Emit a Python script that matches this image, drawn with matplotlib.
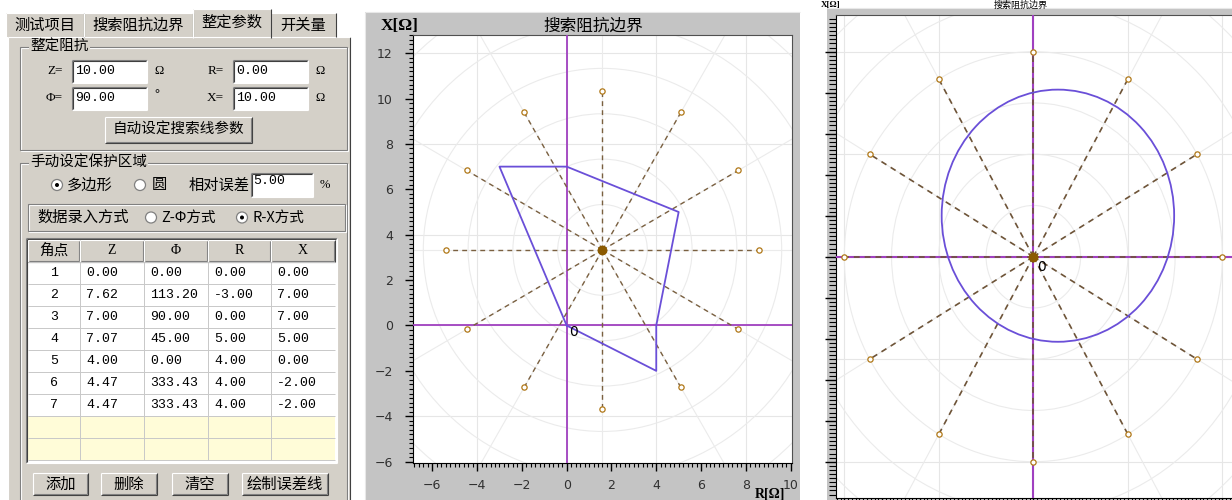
import numpy as np
import matplotlib.pyplot as plt
from matplotlib.patches import Rectangle, Circle
from matplotlib.ticker import MultipleLocator

W, H = 1232, 500
PANEL = '#D4D0C8'
FRAME = '#C4C4C4'
CJK = ['Noto Sans CJK SC', 'DejaVu Sans']
MONO = ['Liberation Mono', 'DejaVu Sans Mono']
SERIF = ['Liberation Serif', 'DejaVu Serif']

# ---- values ----
tab_names = ['测试项目', '搜索阻抗边界', '整定参数', '开关量']
set_Z, set_phi, set_R, set_X = 10.00, 90.00, 0.00, 10.00
rel_error = 5.00

col_names = ['角点', 'Z', 'Φ', 'R', 'X']
corner_no = [1, 2, 3, 4, 5, 6, 7]
corner_Z = [0.00, 7.62, 7.00, 7.07, 4.00, 4.47, 4.47]
corner_phi = [0.00, 113.20, 90.00, 45.00, 0.00, 333.43, 333.43]
corner_R = [0.00, -3.00, 0.00, 5.00, 4.00, 4.00, 4.00]
corner_X = [0.00, 7.00, 7.00, 5.00, 0.00, -2.00, -2.00]
button_names = ['添加', '删除', '清空', '绘制误差线']

# search lines, one every 30 degrees
ray_angles = [0, 30, 60, 90, 120, 150, 180, 210, 240, 270, 300, 330]
poly_search_center = (1.6, 3.33)
poly_search_len = 7.0
circ_search_center = (0.0, 0.0)
circ_search_len = 10.0
mho_center = (1.3, 2.0)
mho_radius = 6.15

PURPLE = '#A040C0'
BOUNDARY = '#6A4FD8'

fig = plt.figure(figsize=(W / 100, H / 100), dpi=100)
fig.patch.set_facecolor('white')

bg = fig.add_axes([0, 0, 1, 1], zorder=0)
bg.set_xlim(0, W)
bg.set_ylim(H, 0)
bg.axis('off')


def px_axes(x0, y0, x1, y1):
    return fig.add_axes([x0 / W, 1 - y1 / H, (x1 - x0) / W, (y1 - y0) / H], zorder=2)


def hline(x0, x1, y, c, lw=0.8):
    bg.plot([x0, x1], [y, y], color=c, lw=lw, solid_capstyle='butt')


def vline(x, y0, y1, c, lw=0.8):
    bg.plot([x, x], [y0, y1], color=c, lw=lw, solid_capstyle='butt')


def rect(x0, y0, x1, y1, fc, ec='none'):
    bg.add_patch(Rectangle((x0, y0), x1 - x0, y1 - y0, fc=fc, ec=ec, lw=0.8))


def sunken(x0, y0, x1, y1, fill='white'):
    rect(x0, y0, x1, y1, fill)
    hline(x0, x1, y0, '#808080'); vline(x0, y0, y1, '#808080')
    hline(x0 + 1, x1 - 1, y0 + 1, '#404040'); vline(x0 + 1, y0 + 1, y1 - 1, '#404040')
    hline(x0, x1, y1, 'white'); vline(x1, y0, y1, 'white')


def raised(x0, y0, x1, y1, fill=PANEL):
    rect(x0, y0, x1, y1, fill)
    hline(x0, x1, y0, 'white'); vline(x0, y0, y1, 'white')
    hline(x0, x1, y1, '#404040'); vline(x1, y0, y1, '#404040')
    hline(x0 + 1, x1 - 1, y1 - 1, '#808080'); vline(x1 - 1, y0 + 1, y1 - 1, '#808080')


def group(x0, y0, x1, y1, title=None, tx=None):
    bg.add_patch(Rectangle((x0 + 1, y0 + 1), x1 - x0, y1 - y0, fc='none', ec='white', lw=0.8))
    bg.add_patch(Rectangle((x0, y0), x1 - x0, y1 - y0, fc='none', ec='#808080', lw=0.8))
    if title:
        bg.text(tx, y0, title, ha='left', va='center', fontsize=10.5, family=CJK,
                bbox=dict(fc=PANEL, ec='none', pad=1))


def radio(x, y, on):
    bg.add_patch(Circle((x, y), 5.5, fc='white', ec='#808080', lw=0.9))
    if on:
        bg.add_patch(Circle((x, y), 2, fc='black', ec='none'))


def txt(x, y, s, size=10.5, ha='left', family=CJK, **kw):
    bg.text(x, y, s, ha=ha, va='center', fontsize=size, family=family, **kw)


# ---------------- left dialog panel ----------------
rect(8, 37, 350, 505, PANEL)
vline(8, 37, 505, 'white'); vline(350, 37, 505, '#404040')
hline(8, 350, 37, 'white')

tab_spans = [(6, 84), (84, 193), (193, 271), (271, 336)]
for i, (name, (a, b)) in enumerate(zip(tab_names, tab_spans)):
    if i == 2:
        continue
    rect(a, 13, b, 37, PANEL)
    hline(a, b, 13, 'white'); vline(a, 13, 37, 'white'); vline(b, 13, 37, '#404040')
    txt((a + b) / 2, 25.5, name, size=11, ha='center')
a, b = tab_spans[2]
rect(a, 9, b, 38.5, PANEL)
hline(a, b, 9, 'white'); vline(a, 9, 38, 'white'); vline(b, 9, 38, '#404040')
txt((a + b) / 2, 22, tab_names[2], size=11, ha='center')

# 整定阻抗 group
group(20, 47, 347, 150, '整定阻抗', 30)
fields = [('Z=', set_Z, 'Ω', 72, 71), ('Φ=', set_phi, '°', 72, 98),
          ('R=', set_R, 'Ω', 233, 71), ('X=', set_X, 'Ω', 233, 98)]
for lab, val, unit, bx, by in fields:
    txt(bx - 9, by, lab, size=9.5, ha='right', family=SERIF)
    sunken(bx, by - 11, bx + 75, by + 12)
    txt(bx + 3, by, '%.2f' % val, size=9.5, family=MONO)
    if unit == '°':
        txt(bx + 82, by - 4, unit, size=9, family=SERIF, fontweight='bold')
    else:
        txt(bx + 82, by, unit, size=9, family=SERIF)
raised(105, 117, 252, 143)
txt(178.5, 130, '自动设定搜索线参数', size=10.5, ha='center')

# 手动设定保护区域 group
group(20, 163, 347, 510, '手动设定保护区域', 30)
radio(57, 185, True)
txt(67, 185, '多边形', size=11)
radio(140, 185, False)
txt(152, 185, '圆', size=11)
txt(189, 185, '相对误差', size=11)
sunken(251, 173, 313, 197)
txt(253, 181, '%.2f' % rel_error, size=9.5, family=MONO)
txt(320, 185, '%', size=9, family=SERIF)

group(28, 204, 345, 231)
txt(37, 217.5, '数据录入方式', size=11)
radio(151, 217.5, False)
txt(161, 217.5, 'Z-Φ方式', size=10.5)
radio(242, 217.5, True)
txt(253, 217.5, 'R-X方式', size=10.5)

# corner table
cols = [28, 80, 144, 208, 271, 335]
sunken(26, 238, 337, 463)
head_top, head_bot = 240, 261.7
row_h = 22.03
for i, name in enumerate(col_names):
    raised(cols[i], head_top, cols[i + 1], head_bot)
    fam = CJK if i == 0 else SERIF
    txt((cols[i] + cols[i + 1]) / 2, (head_top + head_bot) / 2, name, size=10 if i else 10.5,
        ha='center', family=fam)
n_rows = 9
for r in range(n_rows):
    y0 = head_bot + r * row_h
    fill = 'white' if r < len(corner_no) else '#FFFCD8'
    rect(cols[0], y0, cols[-1], y0 + row_h, fill)
for r in range(n_rows + 1):
    hline(cols[0], cols[-1], head_bot + r * row_h, '#C8C8C8', lw=0.7)
for c in cols[1:-1]:
    vline(c, head_bot, head_bot + n_rows * row_h, '#C8C8C8', lw=0.7)
for r in range(len(corner_no)):
    yc = head_bot + (r + 0.5) * row_h
    txt((cols[0] + cols[1]) / 2, yc, str(corner_no[r]), size=9.5, ha='center', family=MONO)
    vals = [corner_Z[r], corner_phi[r], corner_R[r], corner_X[r]]
    for j, v in enumerate(vals):
        txt(cols[j + 1] + 6, yc, '%.2f' % v, size=9.5, family=MONO)

btn_spans = [(33, 88), (101, 157), (172, 228), (242, 328)]
for name, (a, b) in zip(button_names, btn_spans):
    raised(a, 473, b, 495)
    txt((a + b) / 2, 484, name, size=11, ha='center')


# ---------------- chart helpers ----------------
def polar_grid(ax, center, step, n):
    cx, cy = center
    for k in range(1, n + 1):
        ax.add_patch(Circle((cx, cy), k * step, fc='none', ec='#EBEBEB', lw=0.8, zorder=1))
    for a in range(0, 360, 30):
        t = np.radians(a)
        ax.plot([cx, cx + 60 * np.cos(t)], [cy, cy + 60 * np.sin(t)],
                color='#EBEBEB', lw=0.8, zorder=1)


def search_rays(ax, center, length, color, lw):
    cx, cy = center
    for a in ray_angles:
        t = np.radians(a)
        ex, ey = cx + length * np.cos(t), cy + length * np.sin(t)
        ax.plot([cx, ex], [cy, ey], ls=(0, (3.5, 3)), color=color, lw=lw, zorder=5)
        ax.plot(ex, ey, 'o', ms=3.8, mfc='white', mec='#B07818', mew=0.9, zorder=6)
    ax.plot(cx, cy, 'o', ms=6, color='#8B5A00', zorder=7)


def style_axes(ax, xlim, ylim, grid_step, minor):
    ax.set_xlim(*xlim)
    ax.set_ylim(*ylim)
    ax.set_facecolor('white')
    for v in np.arange(-20, 21, grid_step):
        ax.axvline(v, color='#E6E6E6', lw=0.8, zorder=0.5)
        ax.axhline(v, color='#E6E6E6', lw=0.8, zorder=0.5)
    ax.xaxis.set_minor_locator(MultipleLocator(minor))
    ax.yaxis.set_minor_locator(MultipleLocator(minor))
    ax.tick_params(which='both', direction='out', colors='black', labelcolor='#303030',
                   labelsize=9, top=False, right=False)
    ax.tick_params(which='major', length=6, width=1)
    ax.tick_params(which='minor', length=3, width=0.8)
    for s in ['left', 'bottom']:
        ax.spines[s].set_color('black')
    for s in ['top', 'right']:
        ax.spines[s].set_color('#505050')


# ---------------- middle chart: polygon ----------------
rect(365, 12, 800, 505, FRAME)
hline(365, 800, 12, '#E8E8E8'); vline(365, 12, 505, '#E8E8E8')
axm = px_axes(413, 35, 792, 463)
style_axes(axm, (-6.86, 10.06), (-6.06, 12.8), 4, 0.2)
axm.set_xticks(np.arange(-6, 11, 2))
axm.set_yticks(np.arange(-6, 13, 2))
axm.tick_params(axis='y', pad=8.5)
axm.tick_params(axis='x', pad=5.5)
polar_grid(axm, poly_search_center, 2, 10)
search_rays(axm, poly_search_center, poly_search_len, '#7A6040', 1.0)
axm.axvline(0, color=PURPLE, lw=1.3, zorder=4)
axm.axhline(0, color=PURPLE, lw=1.3, zorder=4)
axm.plot(corner_R + corner_R[:1], corner_X + corner_X[:1], color=BOUNDARY, lw=1.3, zorder=8)
axm.annotate('0', (0, 0), xytext=(4.9, -5), textcoords='offset points', ha='center',
             va='center', fontsize=10, zorder=9)
txt(593, 26, '搜索阻抗边界', size=12, ha='center')
txt(400, 26, 'X[Ω]', size=12.5, ha='center', family=SERIF, fontweight='bold')
txt(770, 494, 'R[Ω]', size=10, ha='center', family=SERIF, fontweight='bold')

# ---------------- right chart: circle ----------------
rect(827, 8, 1240, 505, FRAME)
hline(827, 1240, 8, '#E8E8E8')
txt(1021, 5, '搜索阻抗边界', size=6.5, ha='center')
txt(840, 5, 'X[Ω]', size=6.5, ha='right', family=SERIF, fontweight='bold')
axr = px_axes(836, 15, 1232, 498)
style_axes(axr, (-10.44, 10.51), (-11.77, 11.79), 5, 0.2)
axr.set_xticks(np.arange(-10, 11, 2))
axr.set_yticks(np.arange(-10, 11, 2))
axr.tick_params(labelleft=False, labelbottom=False)
axr.tick_params(which='major', length=8)
axr.tick_params(which='minor', length=5)
axr.spines['right'].set_visible(False)
polar_grid(axr, circ_search_center, 2.5, 8)
axr.axvline(0, color=PURPLE, lw=1.5, zorder=4)
axr.axhline(0, color=PURPLE, lw=1.5, zorder=4)
search_rays(axr, circ_search_center, circ_search_len, '#6E5438', 1.2)
axr.add_patch(Circle(mho_center, mho_radius, fc='none', ec=BOUNDARY, lw=1.3, zorder=8))
axr.annotate('0', (0, 0), xytext=(5.9, -7.4), textcoords='offset points', ha='center',
             va='center', fontsize=10, zorder=9)

fig.savefig('out.png', dpi=100, facecolor='white')
